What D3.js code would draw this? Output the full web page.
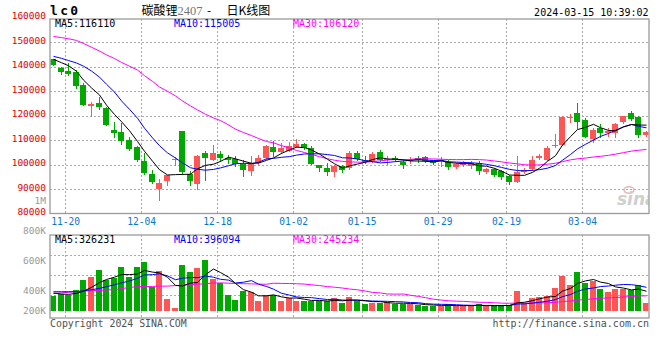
<!DOCTYPE html>
<html><head><meta charset="utf-8">
<script src="https://cdn.jsdelivr.net/npm/d3@7"></script>
<style>body{margin:0;background:#fff}svg{display:block}</style>
</head><body><svg id="c" width="660" height="360"></svg>
<script>
// ---------- data ----------
const openP  = [143060,139660,138440,138030,132590,124010,125240,123200,114220,113400,
                110140,107010,101570,96260,90000,93130,101840,113810,96260,91910,
                104700,101700,104430,102650,102250,100070,97210,100610,102520,107280,
                105240,105780,107140,108370,106600,99930,98440,96800,99530,98440,
                104700,101970,101430,105240,101700,102790,100880,101570,102790,103200,
                101290,101430,101020,98980,99800,99250,100610,96800,98160,97210,
                95170,92720,96800,98160,102520,101970,107690,108100,119250,121020,
                118300,110410,115170,113130,112860,117620,121020,119390,112040];
const highP  = [143300,140070,141430,138710,133270,125780,127820,123740,117620,116940,
                111500,107420,104700,97890,94220,95850,102930,113810,97210,104020,
                105650,108100,105400,104020,103610,101970,103610,104020,108100,109730,
                108780,109190,110680,109050,107420,99930,100610,99930,99930,105380,
                105380,103610,104970,106060,103340,103340,101700,102930,103340,103610,
                101970,102930,101700,100610,101290,101430,101290,98570,98710,97890,
                95850,103340,98570,103340,104150,107690,112590,119930,120750,125100,
                118980,114900,116530,114900,116940,119930,121970,119930,113680];
const lowP   = [140600,137210,136670,131230,124420,119930,122650,116260,111500,108640,
                106060,101290,96260,92450,85510,91500,99930,96260,91630,90000,
                93540,101700,101500,100610,99250,95170,95850,100340,102250,103340,
                104700,105380,107140,106330,100340,97210,95850,95170,96800,98160,
                101700,100610,101160,101290,100200,101290,98440,100610,101160,100880,
                100340,99530,98160,98440,99250,98710,96260,96530,95440,94220,
                92180,92720,96530,97890,102110,101700,107140,108100,117620,115170,
                111230,109460,111500,111910,111230,116940,118300,111230,111910];
const closeP = [140880,138030,137210,132310,124560,124830,123610,116400,113130,109870,
                106330,101700,96400,92720,92450,95580,102380,96800,93130,103610,
                102520,104830,102520,101700,100340,97620,100610,102790,107420,105240,
                106870,107690,108510,106600,100340,98440,97080,99250,97890,104700,
                102250,101020,104430,101700,102250,101700,99800,101970,101700,101570,
                100610,101700,98850,100200,100610,100610,97210,98160,95850,94760,
                92720,96800,97890,101970,103340,106740,108230,119660,119390,117620,
                111500,114220,112860,113810,116670,119930,118710,112040,113400];
const volume = [249000,277000,260000,349000,515000,564000,681000,515000,542000,730000,
                564000,730000,813000,404000,664000,199000,50000,764000,647000,714000,
                847000,526000,470000,266000,183000,332000,315000,166000,266000,266000,
                166000,216000,166000,166000,166000,166000,166000,216000,133000,232000,
                166000,116000,133000,133000,149000,116000,116000,116000,100000,83000,
                83000,83000,116000,83000,83000,83000,116000,83000,83000,83000,
                100000,332000,133000,216000,232000,249000,382000,581000,432000,647000,
                465000,498000,365000,315000,365000,365000,349000,432000,133000];
// moving-average values at the start of the window (history before the first visible day)
const ma5Lead  = [143100,141700,140500,138200];
const ma10Lead = [144300,143500,142600,141600,140300,138300,135800,132900,129700];
const ma30Lead = [152450,151970,151500,150820,149590,148030,146460,144900,143400,141840,
                  140270,138710,136400,134080,131770,130000,128100,126050,124020,122380,
                  120610,119110,118030,116260,114490,113130,111910,110680,109460];
const vma5Lead  = [299000,282000,277000,294000];
const vma10Lead = [321000,321000,321000,321000,337000,354000,376000,404000,437000];
const vma30Lead = [292000,302000,312000,322000,332000,338000,344000,350000,355000,372000,
                   393000,405000,408000,410000,413000,415000,423000,430000,440000,447000,
                   455000,466000,468000,463000,458000,455000,452000,448000,446000];
const tickDates = ['11-20','12-04','12-18','01-02','01-15','01-29','02-19','03-04'];
const tickIndex = [2,12,22,32,41,51,60,70];
const priceTicks = [160000,150000,140000,130000,120000,110000,100000,90000,80000];
const volTickLabels = ['1M','800K','600K','400K','200K'];
const maNames = ['MA5','MA10','MA30'];
const priceLegend = [116110,115005,106120];
const volLegend = [326231,396094,245234];

// ---------- layout ----------
const PL=50, PR=649, PT=19, PB=213.5, VT=235, VB=318, VBASE=311;
const MONO='"DejaVu Sans Mono", monospace';
const UP='#ff5555', DOWN='#00a800', GRID='#aaaaaa', BORDER='#9a9a9a';
const maColors=['#000000','#0000ff','#ff00ff'];

const svg=d3.select('#c');
svg.append('rect').attr('width',660).attr('height',360).attr('fill','#fff');

const x=d3.scaleLinear().domain([0,79]).range([50,650.4]);
const left=i=>Math.round(x(i));
const cx=i=>left(i)+3.5;
const yP=d3.scaleLinear().domain([80000,160000]).range([213.5,18]);
const yV=d3.scaleLinear().domain([0,1266000]).range([VBASE,235]);

const defs=svg.append('defs');
defs.append('clipPath').attr('id','cp').append('rect').attr('x',PL+0.5).attr('y',PT+0.5).attr('width',PR-PL-1).attr('height',PB-PT-1);
defs.append('clipPath').attr('id','cv').append('rect').attr('x',PL+0.5).attr('y',VT+0.5).attr('width',PR-PL-1).attr('height',VB-VT-1);

// ---------- grids ----------
const grid=svg.append('g').attr('stroke',GRID).attr('stroke-dasharray','2,2').attr('stroke-width',1);
priceTicks.slice(1,-1).forEach(v=>{
  const y=Math.round(yP(v))+0.5;
  grid.append('line').attr('x1',PL).attr('x2',PR).attr('y1',y).attr('y2',y);
});
tickIndex.forEach(idx=>{
  const gx=Math.round(x(idx))+0.5;
  grid.append('line').attr('x1',gx).attr('x2',gx).attr('y1',PT).attr('y2',PB);
  grid.append('line').attr('x1',gx).attr('x2',gx).attr('y1',VT).attr('y2',VB);
});
[1,2,3].forEach(k=>{
  const y=VT+0.5+20*k;
  grid.append('line').attr('x1',PL).attr('x2',PR).attr('y1',y).attr('y2',y);
});

// watermark
const wm=svg.append('g').attr('clip-path','url(#cp)');
wm.append('ellipse').attr('cx',629).attr('cy',190).attr('rx',5).attr('ry',3.2).attr('fill','none').attr('stroke','#e6b8b8').attr('stroke-width',1.6);
wm.append('text').attr('x',617).attr('y',205).attr('font-family','"DejaVu Sans", sans-serif').attr('font-size',17)
  .attr('font-style','italic').attr('font-weight','bold').attr('fill','#cfcfcf').text('sina');

// ---------- moving averages ----------
const movAvg=(arr,n,lead)=>arr.map((_,i)=>i<n-1?lead[i]:d3.mean(arr.slice(i-n+1,i+1)));
const priceMA=[movAvg(closeP,5,ma5Lead),movAvg(closeP,10,ma10Lead),movAvg(closeP,30,ma30Lead)];
const volMA=[movAvg(volume,5,vma5Lead),movAvg(volume,10,vma10Lead),movAvg(volume,30,vma30Lead)];

// ---------- candles ----------
const pg=svg.append('g').attr('clip-path','url(#cp)');
closeP.forEach((c,i)=>{
  const o=openP[i], up=c>=o, col=up?UP:DOWN;
  pg.append('line').attr('x1',cx(i)).attr('x2',cx(i))
    .attr('y1',Math.round(yP(highP[i]))).attr('y2',Math.round(yP(lowP[i]))+1)
    .attr('stroke',col).attr('stroke-width',1);
  const yt=Math.round(yP(Math.max(o,c))), yb=Math.round(yP(Math.min(o,c)));
  pg.append('rect').attr('x',left(i)).attr('y',yt).attr('width',6).attr('height',Math.max(1,yb-yt)).attr('fill',col);
});
const lineP=d3.line().x((d,i)=>cx(i)).y(d=>yP(d));
priceMA.slice().reverse().forEach((arr,k)=>{
  pg.append('path').attr('d',lineP(arr)).attr('fill','none').attr('stroke',maColors[2-k]).attr('stroke-width',1);
});

// ---------- volume ----------
const vg=svg.append('g').attr('clip-path','url(#cv)');
volume.forEach((v,i)=>{
  const up=closeP[i]>=openP[i];
  const yt=Math.round(yV(v));
  vg.append('rect').attr('x',left(i)).attr('y',yt).attr('width',6).attr('height',VBASE-yt).attr('fill',up?UP:DOWN);
});
const lineV=d3.line().x((d,i)=>cx(i)).y(d=>yV(d));
volMA.slice().reverse().forEach((arr,k)=>{
  vg.append('path').attr('d',lineV(arr)).attr('fill','none').attr('stroke',maColors[2-k]).attr('stroke-width',1);
});

// ---------- borders ----------
const bd=svg.append('g').attr('fill','none').attr('stroke',BORDER).attr('stroke-width',1.3);
bd.append('rect').attr('x',PL).attr('y',PT).attr('width',PR-PL).attr('height',PB-PT);
bd.append('rect').attr('x',PL).attr('y',VT).attr('width',PR-PL).attr('height',VB-VT);

// ---------- axes ----------
const ay=svg.append('g').attr('transform',`translate(${PL},0)`)
  .call(d3.axisLeft(yP).tickValues(priceTicks).tickFormat(d3.format('d')).tickSize(0).tickPadding(4));
ay.select('.domain').remove();
ay.attr('font-family',MONO).attr('font-size',9.5);
ay.selectAll('text').attr('fill','#e00000').attr('dy','0.1em');

const ax=svg.append('g').attr('transform',`translate(0,${PB})`)
  .call(d3.axisBottom(x).tickValues(tickIndex).tickFormat((d,k)=>tickDates[k]).tickSize(0).tickPadding(4.6));
ax.select('.domain').remove();
ax.attr('font-family',MONO).attr('font-size',9.6);
ax.selectAll('text').attr('fill','#0a78d0');

const vl=d3.scalePoint().domain(volTickLabels).range([204,323.6]);
svg.append('g').selectAll('text').data(volTickLabels).join('text')
  .attr('x',46).attr('y',d=>Math.min(vl(d),314)).attr('text-anchor','end')
  .attr('font-family',MONO).attr('font-size',9.5).attr('fill','#999').text(d=>d);

// ---------- legends ----------
const legX=[55,174,293];
maNames.forEach((nm,k)=>{
  svg.append('text').attr('x',legX[k]).attr('y',27).attr('font-family',MONO).attr('font-size',10)
    .attr('fill',maColors[k]).text(nm+':'+priceLegend[k]);
  svg.append('text').attr('x',legX[k]).attr('y',242.5).attr('font-family',MONO).attr('font-size',10)
    .attr('fill',maColors[k]).text(nm+':'+volLegend[k]);
});

// ---------- header ----------
svg.append('text').attr('x',50).attr('y',15).attr('font-family',MONO).attr('font-size',13)
  .attr('font-weight','bold').attr('letter-spacing',2.3).attr('fill','#000').text('lc0');
const CJK='"Noto Sans CJK SC", sans-serif';
const t=svg.append('text').attr('y',15).attr('font-size',12);
t.append('tspan').attr('x',141.5).attr('font-family',CJK).attr('fill','#000').text('碳酸锂');
t.append('tspan').attr('font-family','"Liberation Serif", serif').attr('font-size',12.5).attr('fill','#777').text('2407');
t.append('tspan').attr('x',207).attr('font-family',CJK).attr('fill','#000').text('-');
t.append('tspan').attr('x',226.5).attr('font-family',CJK).attr('fill','#000').text('日K线图');
svg.append('text').attr('x',648.5).attr('y',15.5).attr('text-anchor','end').attr('font-family',MONO)
  .attr('font-size',10).attr('fill','#000').text('2024-03-15 10:39:02');

// ---------- footer ----------
svg.append('text').attr('x',50).attr('y',327).attr('font-family',MONO).attr('font-size',9.9)
  .attr('fill','#505050').text('Copyright 2024 SINA.COM');
svg.append('text').attr('x',649).attr('y',327).attr('text-anchor','end').attr('font-family',MONO).attr('font-size',10)
  .attr('fill','#505050').text('http://finance.sina.com.cn');
</script></body></html>
